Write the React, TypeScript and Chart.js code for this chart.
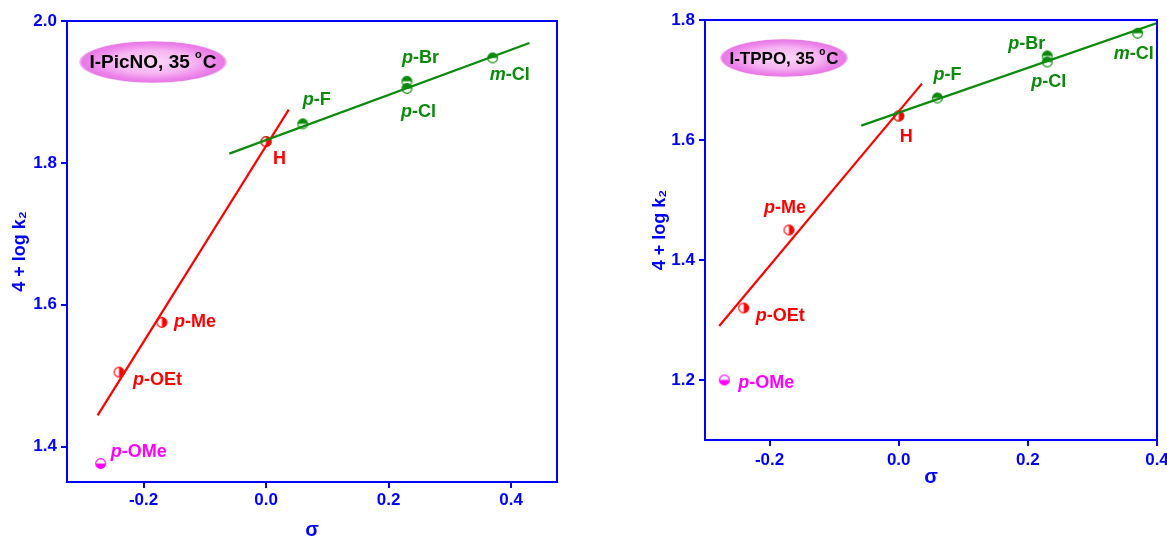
import React, { useEffect, useRef } from 'react';
import { Chart, registerables } from 'chart.js';

Chart.register(...registerables);

// Substituent constants and rate data (4 + log k2 at 35 °C)
const SUBSTITUENTS = ['H', 'p-F', 'p-Br', 'p-Cl', 'm-Cl', 'p-Me', 'p-OEt', 'p-OMe'];
const SIGMA = [0, 0.06, 0.23, 0.23, 0.37, -0.17, -0.24, -0.27];
const LOGK_PICNO = [1.83, 1.855, 1.915, 1.905, 1.948, 1.575, 1.505, 1.376];
const LOGK_TPPO = [1.64, 1.67, 1.74, 1.73, 1.778, 1.45, 1.32, 1.2];

// Which substituents belong to each series
const EWG_IDX = [0, 1, 2, 3, 4];
const EDG_IDX = [0, 5, 6];
const OME_IDX = [7];

// Correlation line end points
const PICNO_EWG_FIT_X = [-0.06, 0.43];
const PICNO_EWG_FIT_Y = [1.813, 1.969];
const PICNO_EDG_FIT_X = [-0.275, 0.037];
const PICNO_EDG_FIT_Y = [1.444, 1.875];
const TPPO_EWG_FIT_X = [-0.058, 0.4];
const TPPO_EWG_FIT_Y = [1.624, 1.795];
const TPPO_EDG_FIT_X = [-0.278, 0.036];
const TPPO_EDG_FIT_Y = [1.29, 1.694];

// Axis ranges and tick values
const PICNO_X_RANGE = [-0.325, 0.475];
const PICNO_Y_RANGE = [1.35, 2.0];
const TPPO_X_RANGE = [-0.3, 0.4];
const TPPO_Y_RANGE = [1.1, 1.8];
const SIGMA_TICKS = [-0.2, 0.0, 0.2, 0.4];
const PICNO_Y_TICKS = [1.4, 1.6, 1.8, 2.0];
const TPPO_Y_TICKS = [1.2, 1.4, 1.6, 1.8];

const FONT = "'Liberation Sans', Arial, Helvetica, sans-serif";
const BLUE = '#0000ff';
const RED = '#ff0000';
const GREEN = '#0b8a0b';
const MAGENTA = '#ff00ff';

type Half = 'right' | 'top' | 'bottom';

function halfCircle(color: string, half: Half): HTMLCanvasElement {
  const c = document.createElement('canvas');
  c.width = 13;
  c.height = 13;
  const ctx = c.getContext('2d')!;
  const cx = 6.5, cy = 6.5, r = 4.9;
  ctx.beginPath();
  ctx.arc(cx, cy, r, 0, Math.PI * 2);
  ctx.fillStyle = '#ffffff';
  ctx.fill();
  let a0 = 0, a1 = 0;
  if (half === 'right') { a0 = -Math.PI / 2; a1 = Math.PI / 2; }
  if (half === 'top') { a0 = Math.PI; a1 = Math.PI * 2; }
  if (half === 'bottom') { a0 = 0; a1 = Math.PI; }
  ctx.beginPath();
  ctx.arc(cx, cy, r, a0, a1);
  ctx.closePath();
  ctx.fillStyle = color;
  ctx.fill();
  ctx.beginPath();
  ctx.arc(cx, cy, r, 0, Math.PI * 2);
  ctx.lineWidth = 1.1;
  ctx.strokeStyle = color;
  ctx.stroke();
  return c;
}

function pick(idx: number[], ys: number[]) {
  return idx.map((i) => ({ x: SIGMA[i], y: ys[i] }));
}

function linePts(xs: number[], ys: number[]) {
  return xs.map((x, i) => ({ x, y: ys[i] }));
}

function drawSubstituent(ctx: CanvasRenderingContext2D, text: string, x: number, y: number, color: string, size: number) {
  ctx.fillStyle = color;
  ctx.textBaseline = 'middle';
  ctx.textAlign = 'left';
  const i = text.indexOf('-');
  if (i > 0) {
    const pre = text.slice(0, i);
    const rest = text.slice(i);
    ctx.font = `italic bold ${size}px ${FONT}`;
    ctx.fillText(pre, x, y);
    const w = ctx.measureText(pre).width;
    ctx.font = `bold ${size}px ${FONT}`;
    ctx.fillText(rest, x + w, y);
  } else {
    ctx.font = `bold ${size}px ${FONT}`;
    ctx.fillText(text, x, y);
  }
}

interface PanelConfig {
  tag: string;
  logk: number[];
  xRange: number[];
  yRange: number[];
  yTicks: number[];
  ewgFit: { x: number[]; y: number[] };
  edgFit: { x: number[]; y: number[] };
  canvas: { left: number; width: number; height: number };
  padding: { top: number; right: number };
  yAxisWidth: number;
  xAxisHeight: number;
  yTitlePad: number;
  xTitlePad: number;
  xTickPad: number;
  tagBox: { dx: number; dy: number; rx: number; ry: number; size: number };
  labelOffsets: Record<string, [number, number]>;
}

const PANELS: PanelConfig[] = [
  {
    tag: 'I-PicNO, 35 ',
    logk: LOGK_PICNO,
    xRange: PICNO_X_RANGE,
    yRange: PICNO_Y_RANGE,
    yTicks: PICNO_Y_TICKS,
    ewgFit: { x: PICNO_EWG_FIT_X, y: PICNO_EWG_FIT_Y },
    edgFit: { x: PICNO_EDG_FIT_X, y: PICNO_EDG_FIT_Y },
    canvas: { left: 0, width: 583, height: 560 },
    padding: { top: 21, right: 26 },
    yAxisWidth: 67,
    xAxisHeight: 78,
    yTitlePad: 9,
    xTitlePad: 18,
    xTickPad: 2,
    tagBox: { dx: 86, dy: 41, rx: 74, ry: 21, size: 19 },
    labelOffsets: {
      H: [7, 17],
      'p-F': [0, -24],
      'p-Br': [-5, -23],
      'p-Cl': [-6, 24],
      'm-Cl': [-3, 17],
      'p-Me': [12, 0],
      'p-OEt': [14, 8],
      'p-OMe': [10, -12],
    },
  },
  {
    tag: 'I-TPPO, 35 ',
    logk: LOGK_TPPO,
    xRange: TPPO_X_RANGE,
    yRange: TPPO_Y_RANGE,
    yTicks: TPPO_Y_TICKS,
    ewgFit: { x: TPPO_EWG_FIT_X, y: TPPO_EWG_FIT_Y },
    edgFit: { x: TPPO_EDG_FIT_X, y: TPPO_EDG_FIT_Y },
    canvas: { left: 583, width: 600, height: 536 },
    padding: { top: 20, right: 26 },
    yAxisWidth: 122,
    xAxisHeight: 96,
    yTitlePad: 66,
    xTitlePad: 47,
    xTickPad: 4,
    tagBox: { dx: 79, dy: 38, rx: 64, ry: 19, size: 17 },
    labelOffsets: {
      H: [1, 21],
      'p-F': [-4, -23],
      'p-Br': [-39, -12],
      'p-Cl': [-16, 20],
      'm-Cl': [-24, 21],
      'p-Me': [-25, -22],
      'p-OEt': [12, 8],
      'p-OMe': [14, 3],
    },
  },
];

function Panel({ cfg }: { cfg: PanelConfig }) {
  const ref = useRef<HTMLCanvasElement | null>(null);

  useEffect(() => {
    const canvas = ref.current;
    if (!canvas) return;

    const greenDot = halfCircle(GREEN, 'top');
    const redDot = halfCircle(RED, 'right');
    const pinkDot = halfCircle(MAGENTA, 'bottom');

    const frame = {
      id: 'frame',
      afterDatasetsDraw(chart: any) {
        const { ctx, chartArea: a } = chart;
        ctx.save();
        ctx.strokeStyle = BLUE;
        ctx.lineWidth = 2;
        ctx.strokeRect(a.left, a.top, a.right - a.left, a.bottom - a.top);
        ctx.restore();
      },
      afterDraw(chart: any) {
        const { ctx, chartArea: a, scales } = chart;
        ctx.save();
        // substituent labels
        SUBSTITUENTS.forEach((name, i) => {
          const off = cfg.labelOffsets[name];
          const px = scales.x.getPixelForValue(SIGMA[i]);
          const py = scales.y.getPixelForValue(cfg.logk[i]);
          const color = OME_IDX.includes(i) ? MAGENTA : EDG_IDX.includes(i) ? RED : GREEN;
          drawSubstituent(ctx, name, px + off[0], py + off[1], color, 18);
        });
        // oxidant / temperature tag
        const t = cfg.tagBox;
        const cx = a.left + t.dx;
        const cy = a.top + t.dy;
        ctx.save();
        ctx.translate(cx, cy);
        ctx.scale(1, t.ry / t.rx);
        const g = ctx.createRadialGradient(0, 0, 0, 0, 0, t.rx);
        g.addColorStop(0, '#fbd6f7');
        g.addColorStop(0.55, '#f7b4f2');
        g.addColorStop(0.85, '#ec82ea');
        g.addColorStop(0.96, '#e879e6');
        g.addColorStop(1, 'rgba(240,150,240,0.5)');
        ctx.beginPath();
        ctx.arc(0, 0, t.rx, 0, Math.PI * 2);
        ctx.fillStyle = g;
        ctx.fill();
        ctx.restore();

        ctx.fillStyle = '#000000';
        ctx.textBaseline = 'middle';
        ctx.textAlign = 'left';
        ctx.font = `bold ${t.size}px ${FONT}`;
        const wMain = ctx.measureText(cfg.tag).width;
        ctx.font = `bold ${Math.round(t.size * 0.6)}px ${FONT}`;
        const wDeg = ctx.measureText('o').width;
        ctx.font = `bold ${t.size}px ${FONT}`;
        const wC = ctx.measureText('C').width;
        const total = wMain + wDeg + 1 + wC;
        let x = cx - total / 2;
        ctx.fillText(cfg.tag, x, cy + 1);
        x += wMain;
        ctx.font = `bold ${Math.round(t.size * 0.6)}px ${FONT}`;
        ctx.fillText('o', x, cy - t.size * 0.35);
        x += wDeg + 1;
        ctx.font = `bold ${t.size}px ${FONT}`;
        ctx.fillText('C', x, cy + 1);
        ctx.restore();
      },
    };

    const tickFont = { family: FONT, size: 17, weight: 'bold' as const };
    const fmt = (v: any) => Number(v).toFixed(1);

    const chart = new Chart(canvas, {
      type: 'scatter',
      data: {
        datasets: [
          {
            label: 'EWG fit',
            data: linePts(cfg.ewgFit.x, cfg.ewgFit.y),
            showLine: true,
            borderColor: GREEN,
            borderWidth: 2.2,
            pointRadius: 0,
          },
          {
            label: 'EDG fit',
            data: linePts(cfg.edgFit.x, cfg.edgFit.y),
            showLine: true,
            borderColor: RED,
            borderWidth: 2.2,
            pointRadius: 0,
          },
          {
            label: 'EDG',
            data: pick(EDG_IDX, cfg.logk),
            pointStyle: redDot,
            pointRadius: 5,
          },
          {
            label: 'EWG',
            data: pick(EWG_IDX, cfg.logk),
            pointStyle: greenDot,
            pointRadius: 5,
          },
          {
            label: 'p-OMe',
            data: pick(OME_IDX, cfg.logk),
            pointStyle: pinkDot,
            pointRadius: 5,
          },
        ],
      },
      options: {
        animation: false,
        responsive: false,
        events: [],
        layout: { padding: { top: cfg.padding.top, right: cfg.padding.right, left: 0, bottom: 0 } },
        plugins: { legend: { display: false }, tooltip: { enabled: false } },
        scales: {
          x: {
            type: 'linear',
            min: cfg.xRange[0],
            max: cfg.xRange[1],
            border: { display: true, color: BLUE, width: 2 },
            grid: { drawOnChartArea: false, drawTicks: true, tickLength: 6, color: BLUE, lineWidth: 2 },
            ticks: {
              color: BLUE,
              font: tickFont,
              padding: cfg.xTickPad,
              maxRotation: 0,
              callback: fmt,
            },
            afterBuildTicks: (s: any) => {
              s.ticks = SIGMA_TICKS.map((value) => ({ value }));
            },
            title: {
              display: true,
              text: 'σ',
              color: BLUE,
              font: { family: FONT, size: 20, weight: 'bold' },
              padding: { top: 0, bottom: cfg.xTitlePad },
            },
            afterFit: (s: any) => {
              s.height = cfg.xAxisHeight;
            },
          },
          y: {
            type: 'linear',
            min: cfg.yRange[0],
            max: cfg.yRange[1],
            border: { display: true, color: BLUE, width: 2 },
            grid: { drawOnChartArea: false, drawTicks: true, tickLength: 6, color: BLUE, lineWidth: 2 },
            ticks: {
              color: BLUE,
              font: tickFont,
              padding: 4,
              callback: fmt,
            },
            afterBuildTicks: (s: any) => {
              s.ticks = cfg.yTicks.map((value) => ({ value }));
            },
            title: {
              display: true,
              text: '4 + log k₂',
              color: BLUE,
              font: { family: FONT, size: 18, weight: 'bold' },
              padding: { top: cfg.yTitlePad, bottom: 0 },
            },
            afterFit: (s: any) => {
              s.width = cfg.yAxisWidth;
            },
          },
        },
      },
      plugins: [frame],
    });

    return () => chart.destroy();
  }, [cfg]);

  return (
    <canvas
      ref={ref}
      width={cfg.canvas.width}
      height={cfg.canvas.height}
      style={{
        position: 'absolute',
        left: cfg.canvas.left,
        top: 0,
        width: cfg.canvas.width,
        height: cfg.canvas.height,
      }}
    />
  );
}

export default function App() {
  return (
    <div
      style={{
        position: 'absolute',
        left: 0,
        top: 0,
        width: 1167,
        height: 536,
        overflow: 'hidden',
        background: '#ffffff',
      }}
    >
      {PANELS.map((p) => (
        <Panel key={p.tag} cfg={p} />
      ))}
    </div>
  );
}
